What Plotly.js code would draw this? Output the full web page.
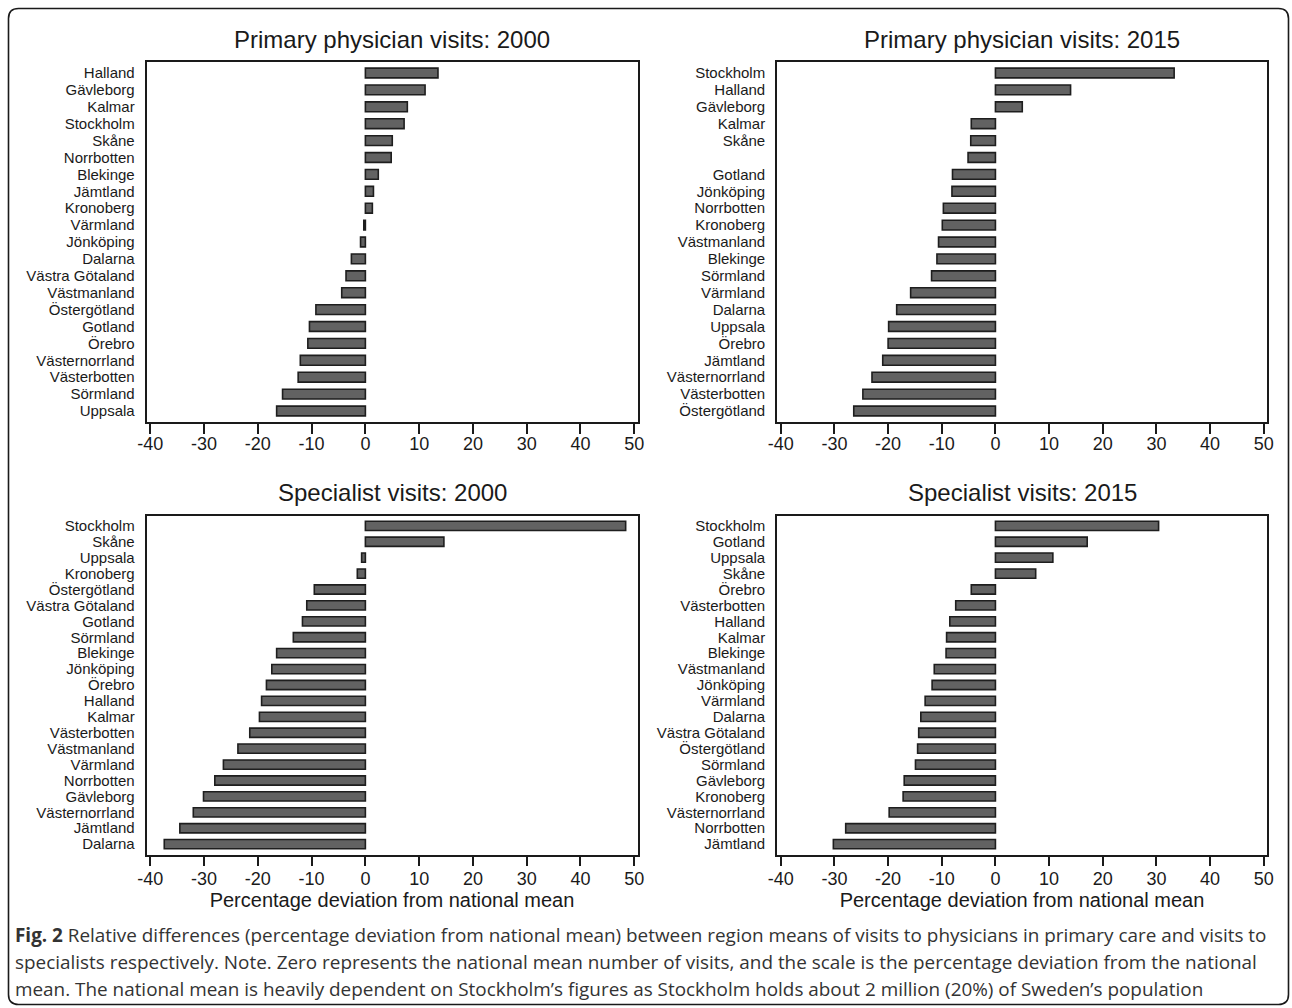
<!DOCTYPE html>
<html>
<head>
<meta charset="utf-8">
<script src="https://cdn.plot.ly/plotly-3.0.1.min.js"></script>
<style>
  html, body { margin: 0; padding: 0; background: #ffffff; }
  #chart { width: 1292px; height: 1008px; }
</style>
</head>
<body>
<div id="chart"></div>
<script>
// ---- Data (percentage deviation from national mean) ----
const primary2000Regions = ["Halland","Gävleborg","Kalmar","Stockholm","Skåne","Norrbotten","Blekinge","Jämtland","Kronoberg","Värmland","Jönköping","Dalarna","Västra Götaland","Västmanland","Östergötland","Gotland","Örebro","Västernorrland","Västerbotten","Sörmland","Uppsala"];
const primary2000Values = [13.5, 11.1, 7.8, 7.2, 5.0, 4.8, 2.4, 1.5, 1.3, -0.3, -0.9, -2.6, -3.6, -4.4, -9.2, -10.4, -10.7, -12.1, -12.5, -15.4, -16.5];

const primary2015Regions = ["Stockholm","Halland","Gävleborg","Kalmar","Skåne"," ","Gotland","Jönköping","Norrbotten","Kronoberg","Västmanland","Blekinge","Sörmland","Värmland","Dalarna","Uppsala","Örebro","Jämtland","Västernorrland","Västerbotten","Östergötland"];
const primary2015Values = [33.3, 14.0, 5.0, -4.5, -4.6, -5.1, -8.0, -8.1, -9.7, -9.9, -10.6, -10.9, -11.9, -15.8, -18.4, -19.9, -20.0, -21.0, -23.0, -24.7, -26.4];

const specialist2000Regions = ["Stockholm","Skåne","Uppsala","Kronoberg","Östergötland","Västra Götaland","Gotland","Sörmland","Blekinge","Jönköping","Örebro","Halland","Kalmar","Västerbotten","Västmanland","Värmland","Norrbotten","Gävleborg","Västernorrland","Jämtland","Dalarna"];
const specialist2000Values = [48.4, 14.6, -0.7, -1.5, -9.5, -10.9, -11.7, -13.4, -16.5, -17.4, -18.4, -19.3, -19.7, -21.5, -23.7, -26.4, -28.0, -30.1, -32.0, -34.5, -37.4];

const specialist2015Regions = ["Stockholm","Gotland","Uppsala","Skåne","Örebro","Västerbotten","Halland","Kalmar","Blekinge","Västmanland","Jönköping","Värmland","Dalarna","Västra Götaland","Östergötland","Sörmland","Gävleborg","Kronoberg","Västernorrland","Norrbotten","Jämtland"];
const specialist2015Values = [30.4, 17.1, 10.7, 7.5, -4.5, -7.4, -8.5, -9.1, -9.2, -11.4, -11.8, -13.1, -13.9, -14.3, -14.5, -14.9, -17.0, -17.2, -19.8, -27.9, -30.2];

const panelTitles = ["Primary physician visits: 2000","Primary physician visits: 2015","Specialist visits: 2000","Specialist visits: 2015"];
const xTickValues = [-40,-30,-20,-10,0,10,20,30,40,50];
const xAxisTitle = "Percentage deviation from national mean";
const captionLines = [
  "<b>Fig. 2</b> Relative differences (percentage deviation from national mean) between region means of visits to physicians in primary care and visits to",
  "specialists respectively. Note. Zero represents the national mean number of visits, and the scale is the percentage deviation from the national",
  "mean. The national mean is heavily dependent on Stockholm’s figures as Stockholm holds about 2 million (20%) of Sweden’s population"
];

// ---- Layout geometry (pixels) ----
const W = 1292, H = 1008;
const px = v => v / W;
const py = v => 1 - v / H;
const colDom = [[px(146.5), px(637.5)], [px(777), px(1267)]];
const rowDom = [[py(422), py(62)], [py(854.5), py(515.5)]];

const panels = [
  {regions: primary2000Regions, values: primary2000Values, col: 0, row: 0},
  {regions: primary2015Regions, values: primary2015Values, col: 1, row: 0},
  {regions: specialist2000Regions, values: specialist2000Values, col: 0, row: 1},
  {regions: specialist2015Regions, values: specialist2015Values, col: 1, row: 1}
];

const traces = [];
const layout = {
  width: W, height: H,
  margin: {l: 0, r: 0, t: 0, b: 0},
  paper_bgcolor: "#ffffff",
  plot_bgcolor: "#ffffff",
  showlegend: false,
  font: {family: "Liberation Sans, Arial, sans-serif", color: "#1a1a1a"},
  annotations: [],
  shapes: []
};

panels.forEach((p, i) => {
  const n = i + 1;
  const xa = n === 1 ? "x" : "x" + n;
  const ya = n === 1 ? "y" : "y" + n;
  traces.push({
    type: "bar",
    orientation: "h",
    x: p.values,
    y: p.regions,
    xaxis: xa, yaxis: ya,
    width: 0.58,
    marker: {color: "#626262", line: {color: "#1e1e1e", width: 1.6}},
    hoverinfo: "x+y"
  });
  const nCat = p.regions.length;
  layout["xaxis" + (n === 1 ? "" : n)] = {
    domain: colDom[p.col],
    anchor: ya,
    range: [-40.7, 50.6],
    tickmode: "array",
    tickvals: xTickValues,
    ticktext: xTickValues.map(String),
    ticks: "outside", ticklen: 10, tickwidth: 1.5, tickcolor: "#1a1a1a",
    ticklabelstandoff: p.row === 0 ? -5 : -3,
    showline: true, linecolor: "#1a1a1a", linewidth: 1.6, mirror: true,
    showgrid: false, zeroline: false,
    tickfont: {size: 18, family: "Liberation Sans, Arial, sans-serif", color: "#1a1a1a"},
    automargin: false,
    fixedrange: true,
    title: p.row === 1 ? {text: xAxisTitle, font: {size: 20, color: "#1a1a1a"}, standoff: 2} : {text: ""}
  };
  layout["yaxis" + (n === 1 ? "" : n)] = {
    domain: rowDom[p.row],
    anchor: xa,
    type: "category",
    categoryorder: "array",
    categoryarray: p.regions,
    tickmode: "array",
    tickvals: p.regions,
    ticktext: p.regions,
    range: [nCat - 1 + 0.65, -0.65],
    ticks: "outside", ticklen: 7, tickcolor: "rgba(0,0,0,0)",
    showline: true, linecolor: "#1a1a1a", linewidth: 1.6, mirror: true,
    showgrid: false, zeroline: false,
    tickfont: {size: 15, family: "Liberation Sans, Arial, sans-serif", color: "#1a1a1a"},
    automargin: false,
    fixedrange: true
  };
  const cx = (colDom[p.col][0] + colDom[p.col][1]) / 2;
  layout.annotations.push({
    text: panelTitles[i],
    xref: "paper", yref: "paper",
    x: cx, y: p.row === 0 ? py(40) : py(492),
    xanchor: "center", yanchor: "middle",
    showarrow: false,
    font: {size: 24, family: "Liberation Sans, Arial, sans-serif", color: "#1a1a1a"}
  });
});

// Caption lines
const capY = [935, 962, 989];
captionLines.forEach((t, k) => {
  layout.annotations.push({
    text: t,
    xref: "paper", yref: "paper",
    x: px(13), y: py(capY[k]),
    xanchor: "left", yanchor: "middle", align: "left",
    showarrow: false,
    font: {size: 18.9, family: "Open Sans, Noto Sans, sans-serif", color: "#333333"}
  });
});

// Rounded outer border
const x0 = px(8.5), x1 = px(1288.5), y0 = py(8.5), y1 = py(1004.5);
const rx = 10 / W, ry = 10 / H;
layout.shapes.push({
  type: "path", xref: "paper", yref: "paper",
  path: `M ${x0 + rx},${y0} L ${x1 - rx},${y0} Q ${x1},${y0} ${x1},${y0 - ry} L ${x1},${y1 + ry} Q ${x1},${y1} ${x1 - rx},${y1} L ${x0 + rx},${y1} Q ${x0},${y1} ${x0},${y1 + ry} L ${x0},${y0 - ry} Q ${x0},${y0} ${x0 + rx},${y0} Z`,
  line: {color: "#1a1a1a", width: 1.6},
  fillcolor: "rgba(0,0,0,0)",
  layer: "above"
});

Plotly.newPlot("chart", traces, layout, {displayModeBar: false, staticPlot: false, responsive: false});
</script>
</body>
</html>
